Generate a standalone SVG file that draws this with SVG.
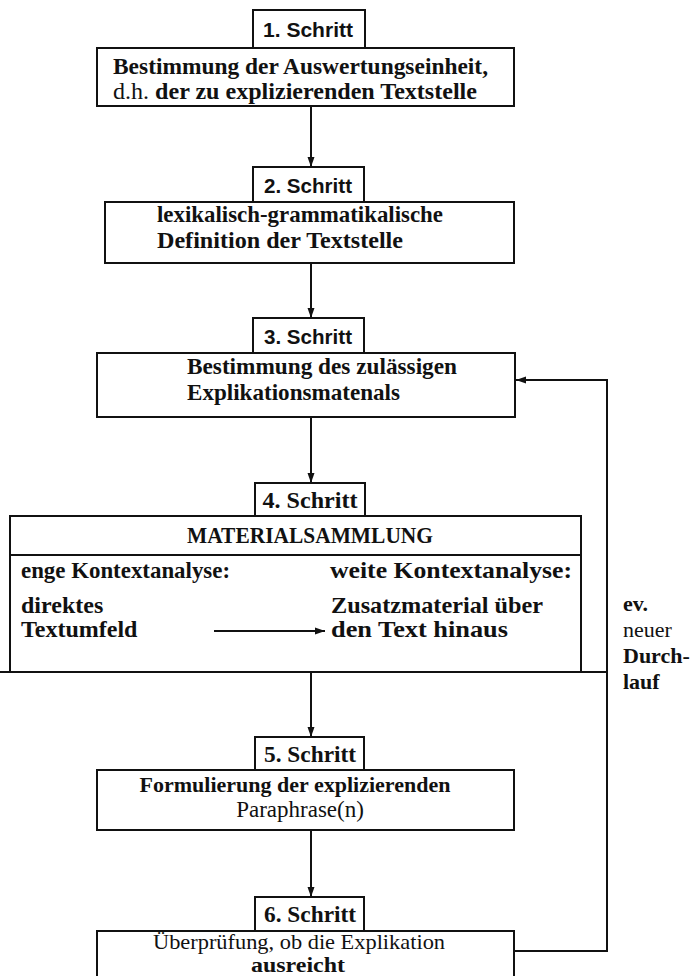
<svg xmlns="http://www.w3.org/2000/svg" width="692" height="976" viewBox="0 0 692 976">
<defs>
<marker id="ah" viewBox="0 0 10 10" refX="10" refY="5" markerWidth="10" markerHeight="10" markerUnits="userSpaceOnUse" orient="auto">
<path d="M0,1.5 L10,5 L0,8.5 Z" fill="#111"/>
</marker>
<style>
.box{fill:#fff;stroke:#111;stroke-width:2}
.ln{fill:none;stroke:#111;stroke-width:2}
.lbl{font-family:"Liberation Sans",Arial,sans-serif;font-weight:bold;font-size:21px;fill:#111;text-anchor:middle}
.lbs{font-family:"Liberation Serif","Times New Roman",serif;font-weight:bold;font-size:24px;fill:#111;text-anchor:middle}
.b{font-family:"Liberation Serif","Times New Roman",serif;font-weight:bold;font-size:24px;fill:#111}
.r{font-family:"Liberation Serif","Times New Roman",serif;font-size:23px;fill:#111}
.m{text-anchor:middle}
.f{font-size:22px}
</style>
</defs>
<rect width="692" height="976" fill="#fff"/>
<g id="connectors">
<line class="ln" x1="311" y1="106" x2="311" y2="167" marker-end="url(#ah)"/>
<line class="ln" x1="311" y1="263" x2="311" y2="318" marker-end="url(#ah)"/>
<line class="ln" x1="311" y1="417" x2="311" y2="483" marker-end="url(#ah)"/>
<line class="ln" x1="311" y1="672" x2="311" y2="737" marker-end="url(#ah)"/>
<line class="ln" x1="311" y1="830" x2="311" y2="897" marker-end="url(#ah)"/>
<polyline class="ln" points="514,951 607,951 607,380 516,380" marker-end="url(#ah)"/>
<line class="ln" x1="0" y1="672" x2="607" y2="672"/>
</g>
<g id="step1">
<rect class="box" x="253" y="10" width="112" height="38"/>
<text class="lbl" x="308" y="37" textLength="90" lengthAdjust="spacingAndGlyphs">1. Schritt</text>
<rect class="box" x="97" y="48" width="417" height="58"/>
<text class="b" x="113" y="74" textLength="375" lengthAdjust="spacingAndGlyphs">Bestimmung der Auswertungseinheit,</text>
<text class="b" x="113" y="99" textLength="364" lengthAdjust="spacingAndGlyphs"><tspan style="font-weight:normal">d.h.</tspan> der zu explizierenden Textstelle</text>
</g>
<g id="step2">
<rect class="box" x="253" y="167" width="111" height="35"/>
<text class="lbl" x="308" y="193" textLength="88" lengthAdjust="spacingAndGlyphs">2. Schritt</text>
<rect class="box" x="105" y="202" width="409" height="61"/>
<text class="b" x="157" y="222" textLength="286" lengthAdjust="spacingAndGlyphs">lexikalisch-grammatikalische</text>
<text class="b" x="157" y="248" textLength="246" lengthAdjust="spacingAndGlyphs">Definition der Textstelle</text>
</g>
<g id="step3">
<rect class="box" x="253" y="318" width="111" height="35"/>
<text class="lbl" x="308" y="344" textLength="88" lengthAdjust="spacingAndGlyphs">3. Schritt</text>
<rect class="box" x="97" y="353" width="418" height="64"/>
<text class="b" x="187" y="374" textLength="270" lengthAdjust="spacingAndGlyphs">Bestimmung des zulässigen</text>
<text class="b" x="187" y="400" textLength="213" lengthAdjust="spacingAndGlyphs">Explikationsmatenals</text>
</g>
<g id="step4">
<rect class="box" x="255" y="483" width="110" height="33"/>
<text class="lbs" x="310" y="508" textLength="95" lengthAdjust="spacingAndGlyphs">4. Schritt</text>
<rect class="box" x="10" y="516" width="571" height="156"/>
<line class="ln" x1="10" y1="555" x2="581" y2="555"/>
<text class="b m" x="310" y="543" textLength="246" lengthAdjust="spacingAndGlyphs">MATERIALSAMMLUNG</text>
<text class="b" x="21" y="578" textLength="209" lengthAdjust="spacingAndGlyphs">enge Kontextanalyse:</text>
<text class="b" x="330" y="578" textLength="242" lengthAdjust="spacingAndGlyphs">weite Kontextanalyse:</text>
<text class="b" x="21" y="613">direktes</text>
<text class="b" x="21" y="637">Textumfeld</text>
<text class="b" x="331" y="613" textLength="212" lengthAdjust="spacingAndGlyphs">Zusatzmaterial über</text>
<text class="b" x="331" y="637" textLength="177" lengthAdjust="spacingAndGlyphs">den Text hinaus</text>
<line class="ln" x1="214" y1="631" x2="325" y2="631" marker-end="url(#ah)"/>
</g>
<g id="step5">
<rect class="box" x="255" y="737" width="109" height="33"/>
<text class="lbs" x="310" y="762" textLength="92" lengthAdjust="spacingAndGlyphs">5. Schritt</text>
<rect class="box" x="97" y="770" width="417" height="60"/>
<text class="b m f" x="295" y="792">Formulierung der explizierenden</text>
<text class="r m" x="300" y="817">Paraphrase(n)</text>
</g>
<g id="step6">
<rect class="box" x="255" y="897" width="109" height="34"/>
<text class="lbs" x="310" y="922" textLength="92" lengthAdjust="spacingAndGlyphs">6. Schritt</text>
<rect class="box" x="97" y="931" width="417" height="50"/>
<text class="r m" x="299" y="948.5" style="font-size:21px" textLength="292" lengthAdjust="spacingAndGlyphs">Überprüfung, ob die Explikation</text>
<text class="b m" x="298" y="971.5" style="font-size:20px" textLength="94" lengthAdjust="spacingAndGlyphs">ausreicht</text>
</g>
<g id="feedback-label">
<text class="b f" x="623" y="611">ev.</text>
<text class="r f" x="623" y="637">neuer</text>
<text class="b f" x="623" y="663">Durch-</text>
<text class="b f" x="623" y="689">lauf</text>
</g>
</svg>
